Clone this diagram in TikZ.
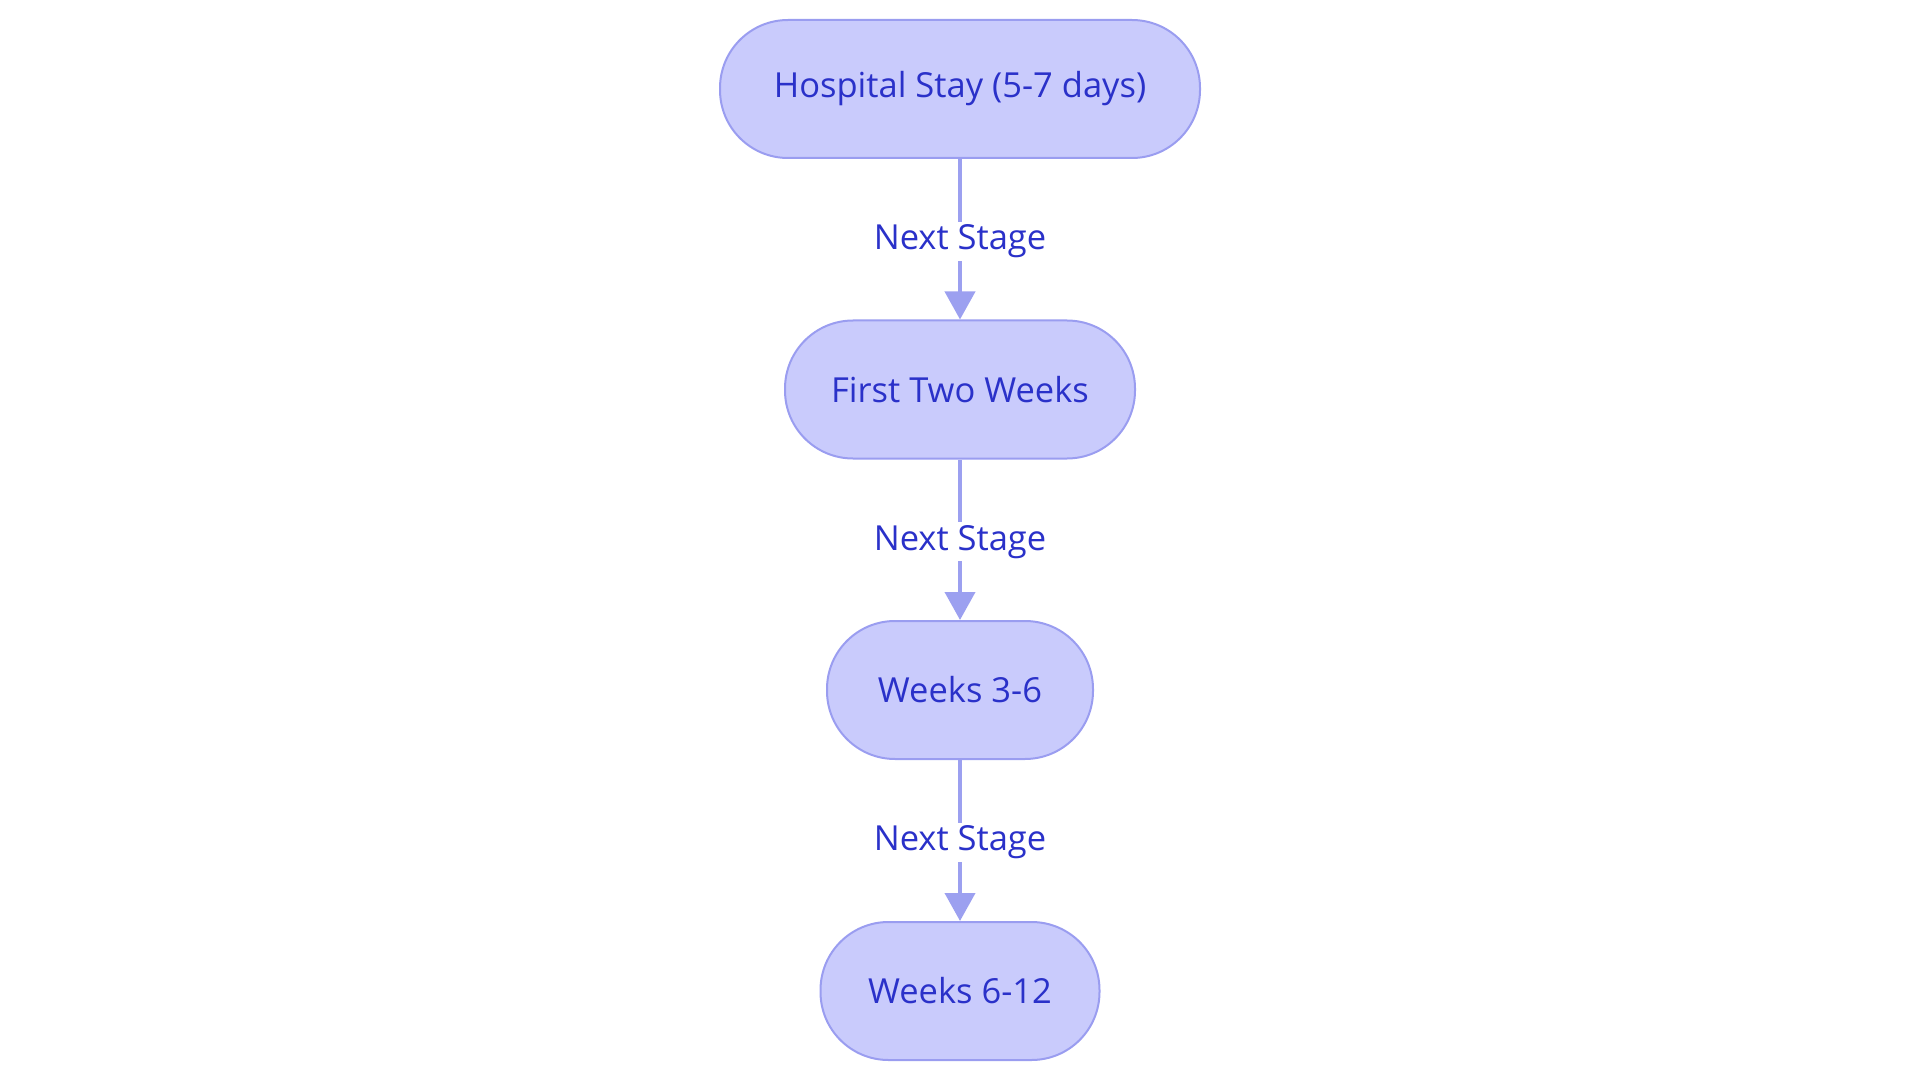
\documentclass[tikz,border=0pt]{standalone}
\usepackage{fontspec}
\setmainfont{Open Sans}
\usetikzlibrary{arrows.meta}
\definecolor{boxfill}{HTML}{C9CBFC}
\definecolor{boxstroke}{HTML}{9A9DF0}
\definecolor{textblue}{HTML}{2A31C9}
\definecolor{arrowcol}{HTML}{9CA0F0}
\tikzset{
  stage/.style={draw=boxstroke, fill=boxfill, line width=2pt, rounded corners=68pt,
    minimum height=138pt, text=textblue, font=\fontsize{34.5}{40}\selectfont, inner sep=0pt},
  flow/.style={draw=arrowcol, line width=4pt, -{Triangle[length=28pt,width=30pt]}},
  lab/.style={fill=white, text=textblue, font=\fontsize{34.5}{40}\selectfont, inner sep=3pt, yshift=-2pt}
}
\begin{document}
\begin{tikzpicture}[x=1pt,y=-1pt]
\useasboundingbox (0,0) rectangle (1920,1083);
\node[stage, minimum width=480pt] (a) at (960,89) {Hospital Stay (5-7 days)};
\node[stage, minimum width=350pt] (b) at (960,389.5) {First Two Weeks};
\node[stage, minimum width=266pt] (c) at (960,690) {Weeks 3-6};
\node[stage, minimum width=279pt] (d) at (960,991) {Weeks 6-12};
\draw[flow] (a) -- node[lab]{Next Stage} (b);
\draw[flow] (b) -- node[lab]{Next Stage} (c);
\draw[flow] (c) -- node[lab]{Next Stage} (d);
\end{tikzpicture}
\end{document}
